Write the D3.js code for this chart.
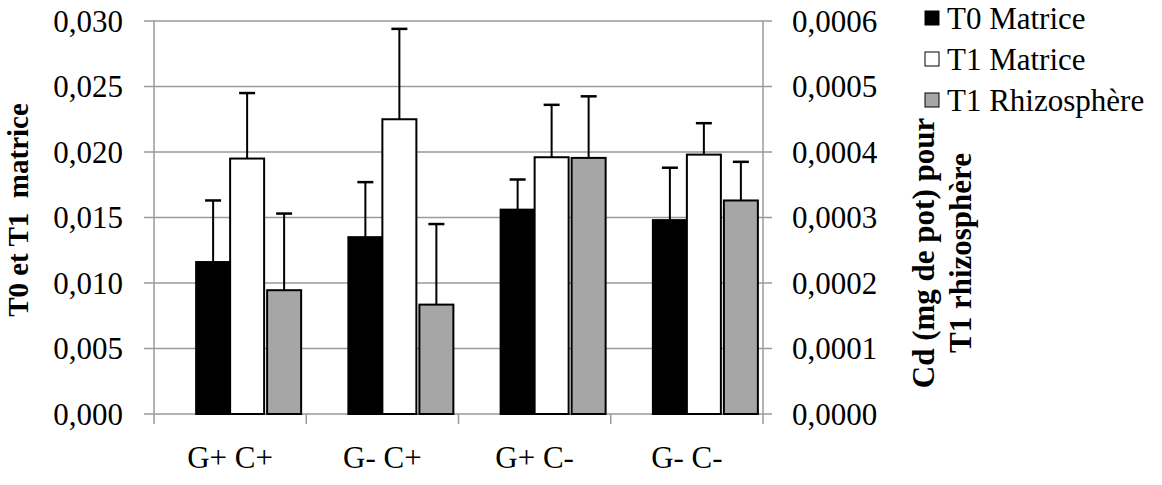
<!DOCTYPE html>
<html>
<head>
<meta charset="utf-8">
<script src="https://cdn.jsdelivr.net/npm/d3@7"></script>
<style>
    body { margin: 0; background: #fff; }
</style>
</head>
<body>
<div id="chart"></div>
<script>

const categories = ["G+ C+", "G- C+", "G+ C-", "G- C-"];
const t0Matrice = [0.0116, 0.0135, 0.0156, 0.0148];
const t0MatriceErr = [0.0047, 0.0042, 0.0023, 0.0040];
const t1Matrice = [0.0195, 0.0225, 0.0196, 0.0198];
const t1MatriceErr = [0.0050, 0.0069, 0.0040, 0.0024];
const t1Rhizo = [0.000189, 0.000167, 0.000391, 0.000326];
const t1RhizoErr = [0.000117, 0.000123, 0.000094, 0.000059];
const leftTicks = [0, 0.005, 0.010, 0.015, 0.020, 0.025, 0.030];
const rightTicks = [0, 0.0001, 0.0002, 0.0003, 0.0004, 0.0005, 0.0006];
const legendLabels = ["T0 Matrice", "T1 Matrice", "T1 Rhizosphère"];
const legendColors = ["#000000", "#ffffff", "#a6a6a6"];

const width = 1162, height = 485;
const plot = {left: 154, right: 763, top: 21, bottom: 414};
const barW = 34;
const fontSize = 31;
const fontFamily = "'Liberation Serif', 'DejaVu Serif', serif";
const gridColor = "#9a9a9a";

const svg = d3.select("#chart").append("svg")
    .attr("width", width)
    .attr("height", height)
    .attr("font-family", fontFamily)
    .style("font-family", fontFamily);

const x = d3.scaleBand()
    .domain(categories)
    .range([plot.left, plot.right])
    .padding(0);

const yL = d3.scaleLinear().domain([0, 0.030]).range([plot.bottom, plot.top]);
const yR = d3.scaleLinear().domain([0, 0.0006]).range([plot.bottom, plot.top]);

const fmtL = v => d3.format(".3f")(v).replace(".", ",");
const fmtR = v => d3.format(".4f")(v).replace(".", ",");

// gridlines (extend left past the axis as the tick marks)
svg.append("g")
    .selectAll("line")
    .data(leftTicks)
    .join("line")
    .attr("x1", plot.left - 10)
    .attr("x2", plot.right)
    .attr("y1", d => yL(d))
    .attr("y2", d => yL(d))
    .attr("stroke", gridColor)
    .attr("stroke-width", 1.5);

// right ticks
svg.append("g")
    .selectAll("line")
    .data(rightTicks)
    .join("line")
    .attr("x1", plot.right)
    .attr("x2", plot.right + 9)
    .attr("y1", d => yR(d))
    .attr("y2", d => yR(d))
    .attr("stroke", gridColor)
    .attr("stroke-width", 1.5);

// axis lines
svg.append("line")
    .attr("x1", plot.left).attr("x2", plot.left)
    .attr("y1", plot.top).attr("y2", plot.bottom + 10)
    .attr("stroke", gridColor).attr("stroke-width", 1.5);
svg.append("line")
    .attr("x1", plot.right).attr("x2", plot.right)
    .attr("y1", plot.top).attr("y2", plot.bottom + 10)
    .attr("stroke", gridColor).attr("stroke-width", 1.5);

// category boundary ticks
svg.append("g")
    .selectAll("line")
    .data(categories.slice(1))
    .join("line")
    .attr("x1", d => x(d)).attr("x2", d => x(d))
    .attr("y1", plot.bottom).attr("y2", plot.bottom + 10)
    .attr("stroke", gridColor).attr("stroke-width", 1.5);

// tick labels
svg.append("g")
    .selectAll("text")
    .data(leftTicks)
    .join("text")
    .attr("x", plot.left - 31)
    .attr("y", d => yL(d))
    .attr("dy", "0.35em")
    .attr("text-anchor", "end")
    .style("font-size", fontSize + "px")
    .text(fmtL);

svg.append("g")
    .selectAll("text")
    .data(rightTicks)
    .join("text")
    .attr("x", plot.right + 29)
    .attr("y", d => yR(d))
    .attr("dy", "0.35em")
    .attr("text-anchor", "start")
    .style("font-size", fontSize + "px")
    .text(fmtR);

svg.append("g")
    .selectAll("text")
    .data(categories)
    .join("text")
    .attr("x", d => x(d) + x.bandwidth() / 2)
    .attr("y", 468)
    .attr("text-anchor", "middle")
    .style("font-size", fontSize + "px")
    .text(d => d);

// bars
const series = [
    {vals: t0Matrice, errs: t0Matrice.map((v, i) => v + t0MatriceErr[i]), scale: yL, off: -barW, color: legendColors[0]},
    {vals: t1Matrice, errs: t1Matrice.map((v, i) => v + t1MatriceErr[i]), scale: yL, off: 0, color: legendColors[1]},
    {vals: t1Rhizo, errs: t1Rhizo.map((v, i) => v + t1RhizoErr[i]), scale: yR, off: barW + 3, color: legendColors[2]}
];

series.forEach(s => {
    const g = svg.append("g");
    const cx = i => x(categories[i]) + x.bandwidth() / 2 + s.off;

    // error bars
    g.selectAll("line.err")
        .data(s.vals)
        .join("line")
        .classed("err", true)
        .attr("x1", (d, i) => cx(i) + barW / 2)
        .attr("x2", (d, i) => cx(i) + barW / 2)
        .attr("y1", d => s.scale(d))
        .attr("y2", (d, i) => s.scale(s.errs[i]))
        .attr("stroke", "#000").attr("stroke-width", 2);
    g.selectAll("line.cap")
        .data(s.vals)
        .join("line")
        .classed("cap", true)
        .attr("x1", (d, i) => cx(i) + barW / 2 - 8)
        .attr("x2", (d, i) => cx(i) + barW / 2 + 8)
        .attr("y1", (d, i) => s.scale(s.errs[i]))
        .attr("y2", (d, i) => s.scale(s.errs[i]))
        .attr("stroke", "#000").attr("stroke-width", 2.5);

    g.selectAll("rect")
        .data(s.vals)
        .join("rect")
        .attr("x", (d, i) => cx(i))
        .attr("y", d => s.scale(d))
        .attr("width", barW)
        .attr("height", d => plot.bottom - s.scale(d))
        .attr("fill", s.color)
        .attr("stroke", "#000")
        .attr("stroke-width", 2);
});

// axis titles
svg.append("text")
    .attr("transform", "translate(28," + 210 + ") rotate(-90)")
    .attr("text-anchor", "middle")
    .style("font-size", "29px")
    .style("font-weight", "bold")
    .style("white-space", "pre")
    .text("T0 et T1  matrice");

const rt = svg.append("text")
    .attr("transform", "translate(934," + 253 + ") rotate(-90)")
    .attr("text-anchor", "middle")
    .style("font-size", fontSize + "px")
    .style("font-weight", "bold");
rt.append("tspan").attr("x", 0).attr("dy", 0).text("Cd (mg de pot) pour");
rt.append("tspan").attr("x", 0).attr("dy", 37).text("T1 rhizosphère");

// legend
const lg = svg.append("g")
    .selectAll("g")
    .data(legendLabels)
    .join("g")
    .attr("transform", (d, i) => "translate(925," + (18 + i * 41) + ")");
lg.append("rect")
    .attr("x", 0).attr("y", -7)
    .attr("width", 14).attr("height", 14)
    .attr("fill", (d, i) => legendColors[i])
    .attr("stroke", "#000")
    .attr("stroke-width", 1);
lg.append("text")
    .attr("x", 22)
    .attr("dy", "0.35em")
    .style("font-size", fontSize + "px")
    .text(d => d);

</script>
</body>
</html>
